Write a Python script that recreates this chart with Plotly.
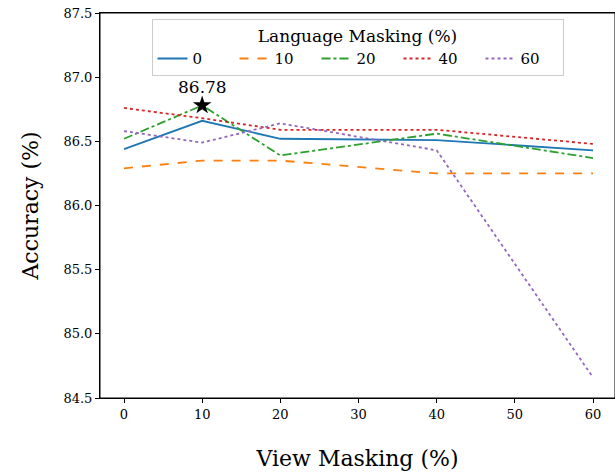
import plotly.graph_objects as go

view_masking = [0, 10, 20, 40, 60]
lang_labels = ["0", "10", "20", "40", "60"]
acc_0 = [86.44, 86.66, 86.52, 86.51, 86.43]
acc_10 = [86.29, 86.35, 86.35, 86.25, 86.25]
acc_20 = [86.52, 86.78, 86.39, 86.56, 86.37]
acc_40 = [86.76, 86.68, 86.59, 86.59, 86.48]
acc_60 = [86.58, 86.49, 86.64, 86.43, 84.66]
best_x = 10
best_y = 86.78
y_ticks = [84.5, 85.0, 85.5, 86.0, 86.5, 87.0, 87.5]
x_ticks = [0, 10, 20, 30, 40, 50, 60]

series = [acc_0, acc_10, acc_20, acc_40, acc_60]
colors = ["#1f77b4", "#ff7f0e", "#2ca02c", "#d62728", "#9467bd"]
dashes = ["solid", "dash", "dashdot", "dot", "dot"]

FONT = "DejaVu Serif"
fig = go.Figure()
for lab, ys, c, d in zip(lang_labels, series, colors, dashes):
    fig.add_trace(go.Scatter(x=view_masking, y=ys, mode="lines", name=lab,
                             line=dict(color=c, width=1.8, dash=d)))

fig.add_trace(go.Scatter(x=[best_x], y=[best_y], mode="markers",
                         marker=dict(symbol="star", size=14, color="black"),
                         showlegend=False))
fig.add_annotation(x=best_x, y=best_y, text=f"{best_y:.2f}", showarrow=False,
                   yshift=18, font=dict(family=FONT, size=17, color="black"))

fig.add_shape(type="rect", xref="paper", yref="paper", x0=0, x1=1, y0=0, y1=1,
              line=dict(color="black", width=1), layer="above")

fig.update_layout(
    width=615, height=473,
    margin=dict(l=100, r=0, t=13, b=75),
    plot_bgcolor="white", paper_bgcolor="white",
    font=dict(family=FONT, color="black", size=13),
    legend=dict(
        orientation="h",
        x=0.5, xanchor="center", y=0.984, yanchor="top",
        title=dict(text="Language Masking (%)", side="top center",
                   font=dict(family=FONT, size=17)),
        font=dict(family=FONT, size=15),
        bordercolor="#cccccc", borderwidth=1, bgcolor="rgba(255,255,255,0.8)",
        itemwidth=30,
        entrywidth=37, entrywidthmode="pixels",
    ),
)
fig.update_xaxes(range=[-3.07, 62.81], tickvals=x_ticks, showgrid=False, zeroline=False,
                 showline=True, linecolor="black", linewidth=1, mirror=True,
                 ticks="outside", ticklen=4, tickcolor="black", automargin=False,
                 tickfont=dict(family=FONT, size=13), ticklabeloverflow="allow",
                 title=dict(text="View Masking (%)", font=dict(family=FONT, size=22),
                            standoff=30))
fig.update_yaxes(range=[84.5, 87.5], tickvals=y_ticks, ticktext=[f"{v:.1f}" for v in y_ticks],
                 showgrid=False, zeroline=False,
                 showline=True, linecolor="black", linewidth=1, mirror=True,
                 ticks="outside", ticklen=4, tickcolor="black", automargin=False,
                 tickfont=dict(family=FONT, size=13), ticklabeloverflow="allow",
                 title=dict(text="Accuracy (%)", font=dict(family=FONT, size=22),
                            standoff=18))

fig.write_html("out.html", config={"displayModeBar": False},
               post_script="document.body.style.margin='0px';")
